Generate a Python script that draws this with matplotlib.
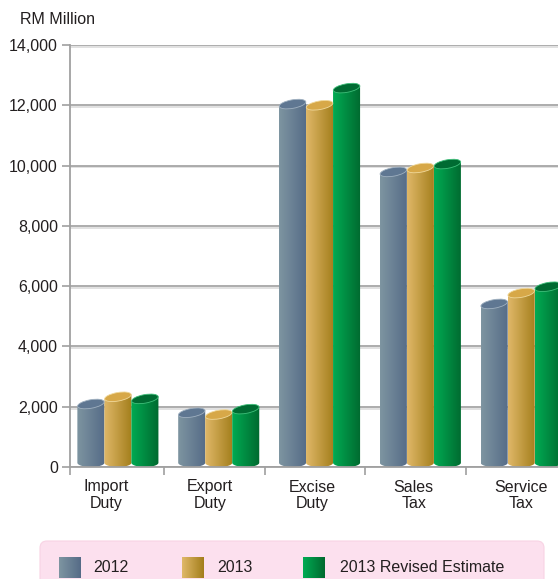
import numpy as np
import matplotlib.pyplot as plt
import matplotlib.patheffects as pe
from matplotlib.patches import Ellipse, PathPatch, FancyBboxPatch
from matplotlib.path import Path
from matplotlib.transforms import IdentityTransform
from matplotlib.colors import LinearSegmentedColormap

categories = ["Import\nDuty", "Export\nDuty", "Excise\nDuty", "Sales\nTax", "Service\nTax"]
series_names = ["2012", "2013", "2013 Revised Estimate"]
v2012 = [2090, 1800, 12040, 9790, 5410]
v2013 = [2330, 1740, 12000, 9920, 5770]
v2013_re = [2260, 1920, 12570, 10050, 5980]
yticks = [0, 2000, 4000, 6000, 8000, 10000, 12000, 14000]

grad_list = [("#7e95a1", "#556b87"), ("#e0b869", "#a37e1b"), ("#00ab53", "#00692f")]
top_list = ["#5f7792", "#d7a848", "#006b32"]
rim_list = ["#9fb0c0", "#f0d89a", "#3fbf7a"]

plt.rcParams["font.family"] = ["Liberation Sans", "DejaVu Sans"]
_fontsize = 11.5
text_color = "#231f20"

fig = plt.figure(figsize=(5.58, 5.79), dpi=100)
ax = fig.add_axes([70 / 558, 112 / 579, 488 / 558, 422 / 579])
ax.set_xlim(-0.43, 4.41)
ax.set_ylim(0, 14000)

ax.spines["right"].set_visible(False)
ax.spines["top"].set_visible(False)
ax.spines["left"].set_color("#a0a0a0")
ax.spines["bottom"].set_color("#a0a0a0")
ax.spines["left"].set_linewidth(1.3)
ax.spines["bottom"].set_linewidth(1.3)

ax.set_yticks(yticks)
ax.set_yticklabels([f"{t:,}" for t in yticks], fontsize=_fontsize, color=text_color)
ax.tick_params(axis="y", direction="out", length=5.8, width=1.2, color="#a0a0a0", pad=3)
# labels sit a little off the category centres in the original
label_shift = [-0.07, -0.04, -0.03, -0.02, 0.04]
ax.set_xticks([i + s for i, s in enumerate(label_shift)])
ax.set_xticklabels(categories, fontsize=_fontsize, color=text_color, linespacing=1.1)
ax.tick_params(axis="x", which="major", length=0, pad=9)
ax.set_xticks([-0.43, 0.5, 1.5, 2.5, 3.5], minor=True)
ax.tick_params(axis="x", which="minor", direction="out", length=6, width=1.2, color="#a0a0a0")

ax.yaxis.grid(True, color="#a6a6a6", linewidth=1.3,
              path_effects=[pe.SimpleLineShadow(offset=(0, -1.3), shadow_color="#dedede", alpha=1), pe.Normal()])
ax.set_axisbelow(True)

fig.canvas.draw()

series = [v2012, v2013, v2013_re]
w = 0.268
off = 0.045
eh = 8.5
tilt = 10
for j, vals in enumerate(series):
    cmap = LinearSegmentedColormap.from_list("g%d" % j, grad_list[j])
    grad = np.linspace(0, 1, 256).reshape(1, -1)
    for i, v in enumerate(vals):
        xl = i + off + (j - 1) * w - w / 2
        xr = xl + w
        (pl, p0), (pr, pt) = ax.transData.transform([(xl, 0), (xr, v)])
        cx = (pl + pr) / 2
        a = (pr - pl) / 2
        b = eh / 2
        rise = a * np.sin(np.radians(tilt))
        # silhouette: sides plus rounded bottom
        t = np.linspace(np.pi, 2 * np.pi, 40)
        bottom = np.column_stack([cx + a * np.cos(t), p0 + b + b * np.sin(t)])
        verts = np.vstack([[pl, pt - rise], bottom, [pr, pt + rise], [pl, pt - rise]])
        clip = PathPatch(Path(verts), transform=IdentityTransform(), facecolor="none", edgecolor="none")
        ax.add_patch(clip)
        im = ax.imshow(grad, extent=(xl, xr, 0, v + 600), aspect="auto", cmap=cmap, zorder=2,
                       interpolation="bilinear")
        im.set_clip_path(clip)
        top = Ellipse((cx, pt), 2 * a * 0.995, eh, angle=tilt, transform=IdentityTransform(),
                      facecolor=top_list[j], edgecolor=rim_list[j], linewidth=0.6, zorder=3)
        ax.add_artist(top)

ax.set_xlim(-0.43, 4.41)
ax.set_ylim(0, 14000)

fig.text(20 / 558, 1 - 19 / 579, "RM Million", fontsize=_fontsize, color=text_color, va="center", ha="left")

# legend box drawn in pixel coordinates
lax = fig.add_axes([0, 0, 1, 1])
lax.set_xlim(0, 558)
lax.set_ylim(579, 0)
lax.axis("off")
box = FancyBboxPatch((40, 541), 504, 60, boxstyle="round,pad=0,rounding_size=7",
                     facecolor="#fce0ee", edgecolor="#f8d3e4", linewidth=0.8, zorder=1)
lax.add_patch(box)
swatch_x = [59, 182, 303]
text_x = [93, 217, 340]
for j, name in enumerate(series_names):
    cmap = LinearSegmentedColormap.from_list("l%d" % j, grad_list[j])
    grad = np.linspace(0, 1, 64).reshape(1, -1)
    lax.imshow(grad, extent=(swatch_x[j], swatch_x[j] + 22, 578, 557), aspect="auto", cmap=cmap,
               interpolation="bilinear", zorder=2)
    lax.text(text_x[j], 567, name, fontsize=_fontsize, color=text_color, va="center", ha="left", zorder=3)
lax.set_xlim(0, 558)
lax.set_ylim(579, 0)

plt.savefig("out.png", dpi=100)
